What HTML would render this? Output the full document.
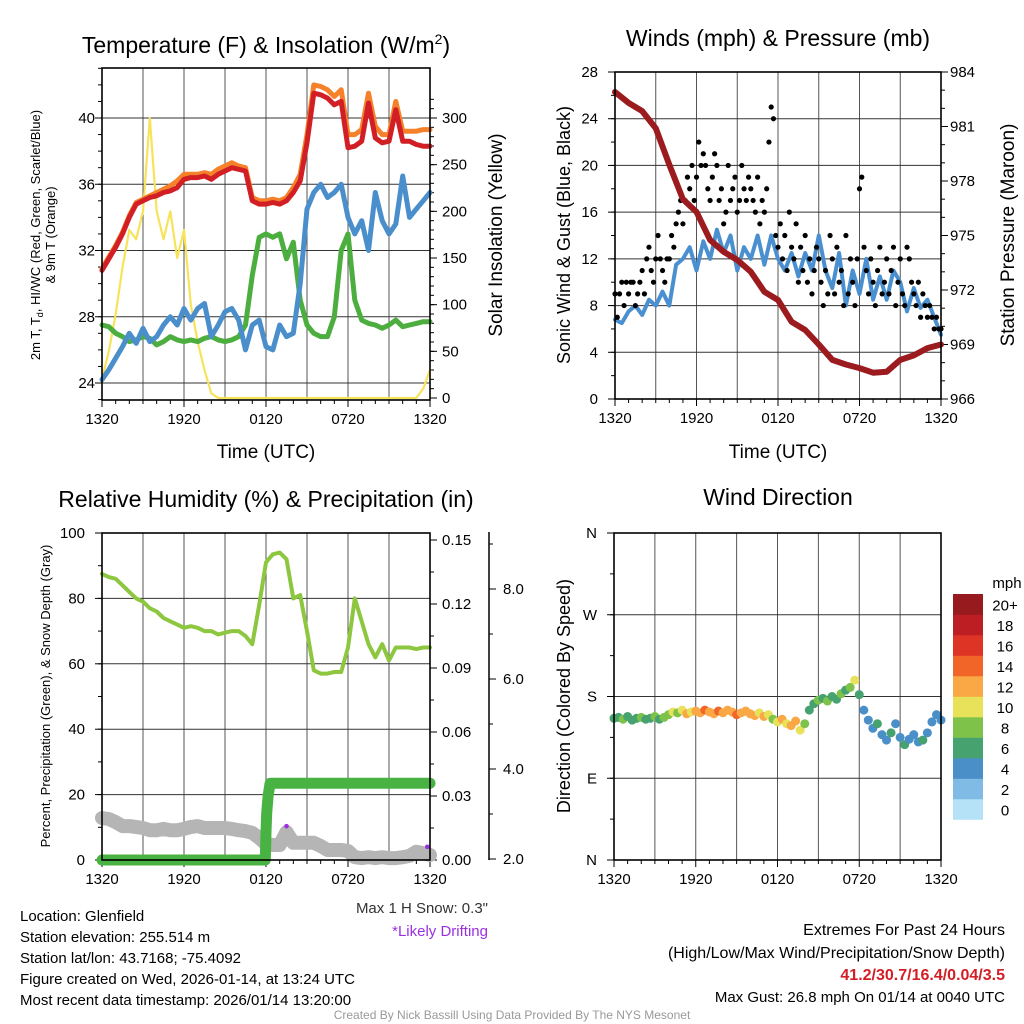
<!DOCTYPE html>
<html><head><meta charset="utf-8">
<style>
html,body{margin:0;padding:0;background:#fff;}
svg{display:block;font-family:"Liberation Sans",sans-serif;}
</style></head>
<body>
<svg id="chart" width="1024" height="1024" viewBox="0 0 1024 1024" xmlns="http://www.w3.org/2000/svg">
<rect x="0" y="0" width="1024" height="1024" fill="#fff"/>
</svg>
<script>
// ---------- DATA ----------
const timeLabels = ["1320","1920","0120","0720","1320"];
// half-hourly temperature series (F), t = i/2 hours since 1320 UTC
const temp2m = [30.8,31.5,32.2,33.0,34.0,34.8,35.0,35.2,35.3,35.5,35.6,35.8,36.3,36.4,36.4,36.5,36.3,36.6,36.8,37.0,36.9,36.8,35.0,34.8,34.8,34.9,34.8,35.0,35.5,36.2,38.5,41.5,41.4,41.2,40.8,41.0,38.2,38.3,38.6,40.9,38.8,38.5,38.6,40.5,38.6,38.6,38.4,38.3,38.3];
const temp9m = [30.9,31.6,32.3,33.1,34.1,34.9,35.1,35.3,35.5,35.7,35.9,36.2,36.6,36.6,36.6,36.7,36.6,36.9,37.1,37.3,37.1,37.0,35.2,35.0,35.0,35.1,35.0,35.2,35.8,36.6,39.0,42.0,41.9,41.7,41.3,41.7,39.0,39.0,39.3,41.5,39.5,39.0,39.0,41.0,39.2,39.2,39.2,39.3,39.3];
const windChill = [24.2,24.8,25.5,26.2,27.0,26.4,27.3,26.5,26.8,27.5,28.0,27.5,28.5,27.8,28.5,28.8,26.8,27.5,28.3,28.5,27.8,26.0,27.5,27.8,26.2,26.0,27.5,26.8,27.0,30.0,34.5,35.5,36.0,35.2,35.5,36.0,34.0,33.0,33.8,32.0,35.5,33.8,33.0,33.6,36.5,34.0,34.5,35.0,35.5];
const dewPoint = [27.5,27.4,27.0,26.8,26.5,26.6,26.8,26.7,26.3,26.5,26.8,26.6,26.5,26.6,26.5,26.7,26.8,26.6,26.5,26.6,26.8,27.5,30.5,32.8,33.0,32.8,33.0,31.5,32.5,29.0,27.5,27.0,26.8,26.8,28.0,32.0,33.0,29.0,27.8,27.6,27.5,27.3,27.5,27.8,27.4,27.5,27.6,27.7,27.7];
const solar = [20,50,90,140,180,170,200,300,200,170,200,150,180,100,60,30,5,0,0,0,0,0,0,0,0,0,0,0,0,0,0,0,0,0,0,0,0,0,0,0,0,0,0,0,0,0,0,10,30];
// winds (mph): sonic half-hourly, gust every 10 min, direction every 20 min
const windSpeed = [6.8,6.5,7.5,8.0,7.2,8.5,8.0,9.2,8.0,11.5,12.0,13.0,11.0,13.5,12.0,14.5,12.5,14.0,11.0,13.0,12.0,14.0,11.5,14.0,12.0,11.0,12.5,10.5,12.5,11.0,14.0,11.0,9.5,12.5,8.0,11.0,9.0,12.0,8.5,10.5,8.5,11.0,10.0,7.5,9.5,7.8,8.5,7.0,5.5];
const windGust = [9,7,9,10,8,10,9,10,10,8,9,10,11,9,12,13,11,10,12,14,12,11,10,12,
 12,14,13,15,16,17,15,17,19,18,20,17,
 19,22,20,21,20,18,17,19,21,20,17,18,15,16,20,17,18,19,16,17,20,18,17,19,
 18,17,16,19,15,17,16,18,22,25,24,14,
 13,15,12,14,11,16,13,12,15,10,13,11,
 14,10,12,9,11,13,12,10,8,11,9,14,
 12,9,13,10,11,8,14,9,12,10,8,12,
 18,19,13,11,9,12,10,8,11,13,9,10,
 12,9,11,13,8,10,12,9,8,13,12,10,
 9,8,10,7,9,8,7,8,7,6,7,6,6];
const windDir = [156,157,155,158,154,156,157,155,156,158,155,157, 160,163,162,165,161,163, 164,162,165,163,161,164,162,165,163,160,162,164, 161,159,162,158,160,155, 152,155,150,148,153,143, 150,165,172,176,178,175, 180,177,183,187,190,198, 182,165,154,145,150,138, 132,140,150,135,127,133, 138,130,132,140,152,160,154];
const dirSpeed = [7,6,8,7,6,7,8,6,7,8,7,8, 9,10,8,11,12,10, 12,13,14,13,12,14,13,12,13,14,12,13, 12,13,11,12,10,9, 11,12,10,13,12,11, 8,7,6,8,7,8, 7,6,8,7,9,10, 6,5,4,5,6,4, 5,6,4,5,6,5, 4,5,6,4,5,4,5];
// pressure (mb) hourly
const pressure = [982.9,982.3,981.85,980.9,978.9,977.0,976.3,974.75,974.1,973.65,973.0,971.9,971.45,970.25,969.8,969.0,968.15,967.9,967.7,967.45,967.5,968.15,968.4,968.8,969.0];
// humidity (%) half-hourly
const relHum = [87.5,86.5,86,84,82,80,79,77,76,74,73,72,71,71.5,71,70,70,69,69.5,70,70,68.5,66,78,91,93.5,94,92,80,81,70,58,57,57,57.5,57.5,65,80,73,66,62,66,61,65,65,65,64.5,65,65];
const precipTimes = [0,11.95,12.0,12.05,12.15,12.3,24];
const precipVals = [0,0,0.013,0.022,0.030,0.036,0.036];
const snowDepth = [2.91,2.89,2.82,2.73,2.73,2.71,2.69,2.64,2.64,2.67,2.64,2.64,2.67,2.71,2.73,2.69,2.69,2.69,2.69,2.67,2.64,2.62,2.58,2.47,2.33,2.31,2.31,2.6,2.36,2.36,2.36,2.36,2.29,2.2,2.2,2.2,2.18,2.04,2.02,2.04,2.02,2.04,2.02,2.02,2.04,2.07,2.16,2.13,2.09];
const driftTimes = [13.5,23.8];
const driftSnow = [2.73,2.27];
const speedBinLabels = ["0","2","4","6","8","10","12","14","16","18","20+"];
const speedColors = ["#b5e2f7","#80bbe6","#4a8fc7","#46a26f","#7ec24a","#e8e15a","#f9a845","#f26529","#de3426","#bd1e24","#961a1e"];

// ---------- HELPERS ----------
const NS="http://www.w3.org/2000/svg";
const svg=document.getElementById('chart');
function mk(tag,attrs,name,parent){
  const el=document.createElementNS(NS,tag);
  for(const k in attrs) el.setAttribute(k,attrs[k]);
  
  
  (parent||svg).appendChild(el);
  return el;
}
function txt(x,y,s,name,opts){
  opts=opts||{};
  const a={x:x,y:y,'font-size':opts.size||14,fill:opts.fill||'#000','text-anchor':opts.anchor||'start'};
  if(opts.weight) a['font-weight']=opts.weight;
  if(opts.rot) a.transform='rotate('+opts.rot+' '+x+' '+y+')';
  const t=mk('text',a,name,opts.parent);
  t.textContent=s;
  return t;
}
function lin(d0,d1,r0,r1){return v=>r0+(v-d0)*(r1-r0)/(d1-d0);}
function poly(pts,name,stroke,w,g){
  return mk('polyline',{points:pts.map(p=>p[0].toFixed(1)+','+p[1].toFixed(1)).join(' '),fill:'none',stroke:stroke,'stroke-width':w,'stroke-linejoin':'round','stroke-linecap':'round'},name,g);
}
function timeAxis(P,g){
  const xs=lin(0,24,P.x0,P.x1);
  for(let h=3;h<24;h+=3) mk('line',{x1:xs(h),x2:xs(h),y1:P.y0,y2:P.y1,stroke:'#555','stroke-width':1},'x-grid-line',g);
  for(let h=0;h<=24;h++){const big=h%6===0;mk('line',{x1:xs(h),x2:xs(h),y1:P.y1,y2:P.y1+(big?7:4),stroke:'#000','stroke-width':1},'x-tick',g);}
  timeLabels.forEach((l,i)=>txt(xs(i*6),P.y1+24,l,'x-tick-label',{anchor:'middle',size:15,parent:g}));
  return xs;
}
function yAxis(P,g,ys,vals,fmt,side,minor,grid,labX){
  vals.forEach(v=>{
    const y=ys(v);
    if(grid) mk('line',{x1:P.x0,x2:P.x1,y1:y,y2:y,stroke:'#333','stroke-width':1},'y-grid-line',g);
    if(side==='left'){mk('line',{x1:P.x0-7,x2:P.x0,y1:y,y2:y,stroke:'#000'},'y-tick',g);
      txt(labX,y+5,fmt(v),'y-tick-label',{anchor:'end',size:15,parent:g});}
    else {mk('line',{x1:P.x1,x2:P.x1+7,y1:y,y2:y,stroke:'#000'},'y-tick-right',g);
      txt(labX,y+5,fmt(v),'y-tick-label-right',{anchor:'start',size:15,parent:g});}
  });
  minor.forEach(v=>{const y=ys(v);
    if(side==='left') mk('line',{x1:P.x0-4,x2:P.x0,y1:y,y2:y,stroke:'#000'},'y-minor-tick',g);
    else mk('line',{x1:P.x1,x2:P.x1+4,y1:y,y2:y,stroke:'#000'},'y-minor-tick-right',g);});
}
function frame(P,g){mk('rect',{x:P.x0,y:P.y0,width:P.x1-P.x0,height:P.y1-P.y0,fill:'none',stroke:'#000','stroke-width':1.6},'plot-frame',g);}
function rng(a,b,s){const r=[];for(let v=a;v<=b+1e-9;v+=s)r.push(+v.toFixed(4));return r;}
function colorFor(s){return speedColors[Math.min(10,Math.max(0,Math.floor(s/2)))];}

// ---------- PANEL 1 ----------
(function(){
  const P={x0:102,x1:430,y0:68,y1:400};
  const g=mk('g',{},'temperature-panel');
  const xs=timeAxis(P,g);
  const yt=lin(24,40,383,118), yS=lin(0,300,398,118);
  yAxis(P,g,yt,[24,28,32,36,40],v=>v,'left',rng(23,43,1),true,95);
  yAxis(P,g,yS,[0,50,100,150,200,250,300],v=>v,'right',rng(0,320,10),false,442);
  const half=(arr,ys)=>arr.map((v,i)=>[xs(i/2),ys(v)]);
  poly(half(solar,yS),'solar-line','#f7e35a',2.2,g);
  poly(half(dewPoint,yt),'dewpoint-line','#4cae3e',5,g);
  poly(half(windChill,yt),'windchill-line','#4a8fcb',5,g);
  poly(half(temp9m,yt),'temp-9m-line','#f5822a',5,g);
  poly(half(temp2m,yt),'temp-2m-line','#d21f26',5,g);
  frame(P,g);
  const t=txt(266,53,'Temperature (F) & Insolation (W/m','panel-title',{anchor:'middle',size:23,parent:g});
  const sup=mk('tspan',{dy:-9,'font-size':14},'title-superscript',t);sup.textContent='2';
  const cl=mk('tspan',{dy:9},'title-close',t);cl.textContent=')';
  txt(266,458,'Time (UTC)','x-axis-title',{anchor:'middle',size:19,parent:g});
  const yl=txt(40,235,'2m T, T','y-axis-title-left',{anchor:'middle',size:13,rot:-90,parent:g});
  const sb=mk('tspan',{'font-size':9,dy:3},'subscript-d',yl);sb.textContent='d';
  const r=mk('tspan',{dy:-3},'y-title-rest',yl);r.textContent=', HI/WC (Red, Green, Scarlet/Blue)';
  txt(55,235,'& 9m T (Orange)','y-axis-title-left-2',{anchor:'middle',size:13,rot:-90,parent:g});
  txt(502,235,'Solar Insolation (Yellow)','y-axis-title-right',{anchor:'middle',size:19,rot:-90,parent:g});
})();

// ---------- PANEL 2 ----------
(function(){
  const P={x0:615,x1:941,y0:72,y1:399};
  const g=mk('g',{},'winds-panel');
  const xs=timeAxis(P,g);
  const yw=lin(0,28,399,72), yp=lin(966,984,399,72);
  yAxis(P,g,yw,rng(0,28,4),v=>v,'left',rng(0,28,2),true,598);
  yAxis(P,g,yp,rng(966,984,3),v=>v,'right',rng(966,984,1),false,950);
  poly(windSpeed.map((v,i)=>[xs(i/2),yw(v)]),'wind-speed-line','#4a90d0',4,g);
  windGust.forEach((v,i)=>mk('circle',{cx:xs(i/6),cy:yw(v),r:2.6,fill:'#000'},'gust-point',g));
  poly(pressure.map((v,i)=>[xs(i),yp(v)]),'pressure-line','#9b1b1e',6,g);
  frame(P,g);
  txt(778,46,'Winds (mph) & Pressure (mb)','panel-title',{anchor:'middle',size:23,parent:g});
  txt(778,458,'Time (UTC)','x-axis-title',{anchor:'middle',size:19,parent:g});
  txt(570,235,'Sonic Wind & Gust (Blue, Black)','y-axis-title-left',{anchor:'middle',size:18,rot:-90,parent:g});
  txt(1014,235,'Station Pressure (Maroon)','y-axis-title-right',{anchor:'middle',size:19,rot:-90,parent:g});
})();

// ---------- PANEL 3 ----------
(function(){
  const P={x0:102,x1:430,y0:533,y1:860};
  const g=mk('g',{},'humidity-panel');
  const xs=timeAxis(P,g);
  const yr=lin(0,100,860,533), ypr=lin(0,0.15,860,540), ysn=lin(2,8,859,589);
  yAxis(P,g,yr,rng(0,100,20),v=>v,'left',rng(0,100,10),true,85);
  yAxis(P,g,ypr,rng(0,0.15,0.03),v=>v.toFixed(2),'right',rng(0,0.15,0.015),false,442);
  mk('line',{x1:489,x2:489,y1:532,y2:860,stroke:'#000','stroke-width':1.5},'snow-axis-line',g);
  rng(2,9,1).forEach(v=>mk('line',{x1:489,x2:493,y1:ysn(v),y2:ysn(v),stroke:'#000'},'snow-minor-tick',g));
  [2,4,6,8].forEach(v=>{mk('line',{x1:489,x2:496,y1:ysn(v),y2:ysn(v),stroke:'#000'},'snow-tick',g);
    txt(503,ysn(v)+5,v.toFixed(1),'snow-tick-label',{size:15,parent:g});});
  poly(snowDepth.map((v,i)=>[xs(i/2),ysn(v)]),'snow-depth-line','#b5b5b5',14,g);
  driftTimes.forEach((t,i)=>mk('circle',{cx:xs(t),cy:ysn(driftSnow[i]),r:2.3,fill:'#9b30e0'},'drifting-point',g));
  poly(precipTimes.map((t,i)=>[xs(t),ypr(precipVals[i])]),'precip-line','#48b342',11,g);
  poly(relHum.map((v,i)=>[xs(i/2),yr(v)]),'humidity-line','#8dc63f',4,g);
  frame(P,g);
  txt(266,507,'Relative Humidity (%) & Precipitation (in)','panel-title',{anchor:'middle',size:23,parent:g});
  txt(50,696,'Percent, Precipitation (Green), & Snow Depth (Gray)','y-axis-title-left',{anchor:'middle',size:13,rot:-90,parent:g});
  txt(488,913,'Max 1 H Snow: 0.3"','max-snow-note',{anchor:'end',size:15,fill:'#333',parent:g});
  txt(488,936,'*Likely Drifting','drifting-note',{anchor:'end',size:15,fill:'#9b30e0',parent:g});
})();

// ---------- PANEL 4 ----------
(function(){
  const P={x0:614,x1:941,y0:533,y1:860};
  const g=mk('g',{},'direction-panel');
  const xs=timeAxis(P,g);
  const yd=lin(0,360,860,533);
  const dirLabels=['N','E','S','W','N'];
  yAxis(P,g,yd,[0,90,180,270,360],v=>dirLabels[v/90],'left',rng(0,360,45),true,597);
  windDir.forEach((d,i)=>{
    mk('circle',{cx:xs(i/3),cy:yd(d),r:4.5,fill:colorFor(dirSpeed[i])},'direction-point',g);
  });
  frame(P,g);
  txt(778,505,'Wind Direction','panel-title',{anchor:'middle',size:23,parent:g});
  txt(570,696,'Direction (Colored By Speed)','y-axis-title-left',{anchor:'middle',size:18,rot:-90,parent:g});
  const cb=mk('g',{},'speed-colorbar');
  const bh=20.5, top=594;
  for(let i=0;i<11;i++){
    const y=top+(10-i)*bh;
    mk('rect',{x:953,y:y,width:30,height:bh+0.3,fill:speedColors[i]},'colorbar-swatch',cb);
    txt(1005,y+bh/2+6,speedBinLabels[i],'colorbar-label',{anchor:'middle',size:15,parent:cb});
  }
  txt(1007,588,'mph','colorbar-title',{anchor:'middle',size:15,parent:cb});
})();

// ---------- FOOTER TEXT ----------
const info=["Location: Glenfield","Station elevation: 255.514 m","Station lat/lon: 43.7168; -75.4092","Figure created on Wed, 2026-01-14, at 13:24 UTC","Most recent data timestamp: 2026/01/14 13:20:00"];
info.forEach((s,i)=>txt(20,921+i*21,s,'station-info-line',{size:15}));
txt(1005,935,'Extremes For Past 24 Hours','extremes-title',{anchor:'end',size:16});
txt(1005,958,'(High/Low/Max Wind/Precipitation/Snow Depth)','extremes-subtitle',{anchor:'end',size:16});
txt(1005,980,'41.2/30.7/16.4/0.04/3.5','extremes-values',{anchor:'end',size:16,fill:'#d21f26',weight:'bold'});
txt(1005,1002,'Max Gust: 26.8 mph On 01/14 at 0040 UTC','max-gust-note',{anchor:'end',size:15});
txt(512,1019,'Created By Nick Bassill Using Data Provided By The NYS Mesonet','credit-line',{anchor:'middle',size:12,fill:'#999'});
</script>
</body></html>
